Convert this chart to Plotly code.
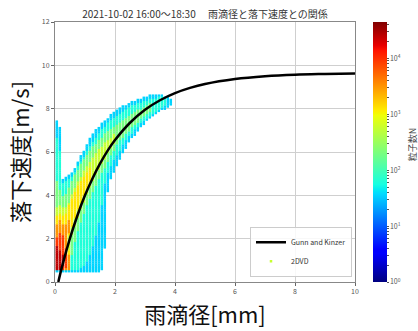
import numpy as np
import plotly.graph_objects as go

# ---------------- data ----------------
# Gunn and Kinzer curve (diameter mm, fall speed m/s)
gk_d = [0.11, 0.25, 0.5, 0.75, 1.0, 1.25, 1.5, 1.75, 2.0, 2.5, 3.0, 3.5, 4.0, 4.5, 5.0, 6.0, 7.0, 8.0, 9.0, 10.0]
gk_v = [0.0, 0.79, 2.02, 3.08, 4.0, 4.78, 5.46, 6.05, 6.55, 7.35, 7.95, 8.39, 8.72, 8.96, 9.14, 9.37, 9.50, 9.57, 9.60, 9.62]

# 2DVD diameter columns (mm)
d_col = [0.06, 0.16, 0.26, 0.36, 0.46, 0.56, 0.66, 0.76, 0.86, 0.96, 1.06, 1.16, 1.26, 1.36, 1.46, 1.56, 1.66,
         1.76, 1.86, 1.96, 2.06, 2.16, 2.26, 2.36, 2.46, 2.56, 2.66, 2.76, 2.86, 2.96, 3.06, 3.16, 3.26, 3.36,
         3.46, 3.56, 3.66, 3.76, 3.86]

# level 1 (~10^1.5 drops): outer envelope of occupied velocity bins
lo1 = [0.5, 0.5, 0.5, 0.5, 0.5, 0.5, 0.5, 0.5, 0.5, 0.5, 0.5, 0.5, 0.5, 0.5, 0.5, 0.6, 1.6, 4.2, 4.8, 5.1,
       5.4, 5.7, 6.0, 6.2, 6.45, 6.65, 6.8, 7.0, 7.15, 7.3, 7.45, 7.55, 7.65, 7.75, 7.85, 7.95, 8.0, 8.1, 8.2]
hi1 = [7.4, 7.1, 4.7, 4.8, 4.9, 5.0, 5.2, 5.5, 5.8, 6.0, 6.3, 6.6, 6.8, 7.0, 7.15, 7.3, 7.45, 7.55, 7.7, 7.8,
       7.9, 8.0, 8.1, 8.15, 8.2, 8.3, 8.35, 8.4, 8.45, 8.5, 8.55, 8.6, 8.6, 8.6, 8.6, 8.6, 8.55, 8.5, 8.45]

# level 2 (~10^1.8): cyan body
lo2 = [0.6, 0.6, 0.6, 0.6, 0.6, 0.6, 0.6, 0.6, 0.7, 0.8, 1.0, 1.3, 1.7, 2.2, 2.8, 3.6, 4.6, 5.1, 5.4, 5.7,
       5.9, 6.1, 6.35, 6.55, 6.75, 6.9, 7.05, 7.2, 7.35, 7.5, 7.6, 7.7, 7.8, 7.9, 7.95, 8.05, 8.15, None, None]
hi2 = [6.6, 6.0, 4.5, 4.6, 4.7, 4.8, 5.0, 5.3, 5.5, 5.75, 6.0, 6.2, 6.45, 6.65, 6.85, 7.0, 7.15, 7.3, 7.45, 7.55,
       7.65, 7.75, 7.85, 7.95, 8.0, 8.1, 8.15, 8.2, 8.25, 8.3, 8.35, 8.4, 8.45, 8.45, 8.5, 8.5, 8.45, None, None]

# level 3 (~10^2.3): green ridge
lo3 = [0.55, 0.55, 0.55, 0.55, 0.6, 1.3, 1.9, 2.4, 2.8, 3.2, 3.55, 3.9, 4.2, 4.5, 4.8, 5.05, 5.3, 5.6, 5.85, 6.05,
       6.35, 6.55, 6.7, 6.85, 7.0, 7.15, 7.3, 7.4, 7.55, 7.65, 7.8, 7.9, None, None, None, None, None, None, None]
hi3 = [4.6, 4.2, 3.9, 4.0, 4.3, 4.6, 4.9, 5.15, 5.4, 5.6, 5.8, 6.0, 6.2, 6.35, 6.5, 6.65, 6.8, 6.9, 7.0, 7.1,
       7.2, 7.3, 7.4, 7.5, 7.6, 7.7, 7.8, 7.9, 7.95, 8.05, 8.1, 8.2, None, None, None, None, None, None, None]

# level 4 (~10^2.75): yellow-green core
d4 = [0.06, 0.16, 0.26, 0.36, 0.46, 0.56, 0.66, 0.76, 0.86, 0.96, 1.06, 1.16, 1.26, 1.36, 1.46, 1.56,
      1.66, 1.76, 1.86, 1.96]
lo4 = [0.55, 0.55, 0.55, 0.6, 0.6, 2.2, 2.6, 3.0, 3.35, 3.7, 4.05, 4.35, 4.65, 4.95, 5.2, 5.45,
       5.7, 5.95, 6.15, 6.35]
hi4 = [3.4, 3.5, 3.4, 3.4, 3.6, 4.0, 4.3, 4.6, 4.85, 5.1, 5.35, 5.55, 5.75, 5.95, 6.1, 6.25,
       6.4, 6.55, 6.65, 6.8]

# level 5 (~10^3.1): yellow
d5 = [0.06, 0.16, 0.26, 0.36, 0.46, 0.46, 0.56, 0.66, 0.76, 0.86, 0.96, 1.06, 1.16]
lo5 = [0.55, 0.55, 0.55, 0.6, 0.6, 2.2, 2.6, 3.0, 3.4, 3.7, 4.0, 4.3, 4.6]
hi5 = [3.0, 3.1, 3.0, 3.1, 1.4, 3.5, 3.8, 4.1, 4.4, 4.6, 4.8, 5.0, 5.2]

# level 6 (~10^3.5): orange
d6 = [0.06, 0.16, 0.26, 0.36, 0.46, 0.46]
lo6 = [0.55, 0.55, 0.55, 0.55, 0.6, 2.3]
hi6 = [2.6, 2.8, 2.6, 2.6, 1.2, 2.8]

# level 7 (~10^3.95): red
d7 = [0.06, 0.16, 0.26, 0.36]
lo7 = [0.55, 0.55, 0.6, 0.7]
hi7 = [2.0, 2.2, 2.1, 1.5]

# level 8 (~10^4.4): dark red
d8 = [0.06, 0.16, 0.26]
lo8 = [0.6, 0.6, 0.8]
hi8 = [1.6, 1.4, 1.2]

level_logn = [1.55, 1.8, 2.3, 2.75, 3.1, 3.5, 3.95, 4.4]   # log10 of drop count
v_bins = np.round(np.arange(0.5, 8.75, 0.1), 2)           # velocity bin centres (m/s)

# ---------------- build the 2D count table ----------------
levels = [
    (d_col, lo1, hi1), (d_col, lo2, hi2), (d_col, lo3, hi3),
    (d4, lo4, hi4), (d5, lo5, hi5), (d6, lo6, hi6), (d7, lo7, hi7), (d8, lo8, hi8),
]
cells = {}
for k, (dd, lo, hi) in enumerate(levels):
    for d, a, b in zip(dd, lo, hi):
        if a is None:
            continue
        for v in v_bins:
            if a - 1e-6 <= v <= b + 1e-6:
                cells[(d, float(v))] = level_logn[k]

# put a core (yellow-green) cell first so the legend swatch takes that colour
items = sorted(cells.items(), key=lambda t: (t[1] != level_logn[3], t[1]))
px = [c[0][0] for c in items]
py = [c[0][1] for c in items]
pz = [c[1] for c in items]

jet = [
    [0.0, "rgb(0,0,128)"], [0.11, "rgb(0,0,255)"], [0.125, "rgb(0,0,255)"],
    [0.34, "rgb(0,219,255)"], [0.35, "rgb(0,230,247)"], [0.375, "rgb(21,255,226)"],
    [0.64, "rgb(239,255,8)"], [0.65, "rgb(247,246,0)"], [0.66, "rgb(255,236,0)"],
    [0.89, "rgb(255,19,0)"], [0.91, "rgb(232,0,0)"], [1.0, "rgb(128,0,0)"],
]

tickvals, ticktext = [], []
for e in range(5):
    tickvals.append(e)
    ticktext.append("10<sup>%d</sup>" % e)
    for m in range(2, 10):
        t = e + np.log10(m)
        if t <= 4.65:
            tickvals.append(t)
            ticktext.append("")

FONT = "Noto Sans CJK JP"

fig = go.Figure()
fig.add_trace(go.Scatter(
    x=px, y=py, mode="markers", name="2DVD", legendrank=2,
    marker=dict(symbol="square", size=2.5, color=pz, colorscale=jet, cmin=0, cmax=4.65,
                line=dict(width=0),
                colorbar=dict(
                    x=1.06, xanchor="left", xpad=0, y=0.5, yanchor="middle", ypad=0,
                    len=1.0, lenmode="fraction",
                    thickness=14, outlinewidth=0,
                    tickmode="array", tickvals=tickvals, ticktext=ticktext,
                    ticks="outside", ticklen=2, tickcolor="#555",
                    tickfont=dict(size=7, color="#555", family=FONT),
                ),
                showscale=True),
    hoverinfo="skip",
))
fig.add_trace(go.Scatter(
    x=gk_d, y=gk_v, mode="lines", name="Gunn and Kinzer", legendrank=1,
    line=dict(color="black", width=2.5, shape="spline"),
))

axis_common = dict(
    showgrid=True, gridcolor="#cfcfcf", gridwidth=1,
    showline=True, linecolor="#888", linewidth=1, mirror=True,
    ticks="outside", ticklen=3, tickcolor="#666",
    tickfont=dict(size=7, color="#555", family=FONT),
    zeroline=False,
)
fig.update_xaxes(range=[0, 10], dtick=2, **axis_common,
                 title=dict(text="雨滴径[mm]", font=dict(size=22, color="#111", family=FONT), standoff=12))
fig.update_yaxes(range=[0, 12], dtick=2, **axis_common,
                 title=dict(text="落下速度[m/s]", font=dict(size=22, color="#111", family=FONT), standoff=6))

fig.add_annotation(text="粒子数N", textangle=-90, x=1.19, y=0.53, xref="paper", yref="paper",
                   xanchor="center", yanchor="middle", showarrow=False,
                   font=dict(size=9, color="#444", family=FONT))

fig.update_layout(
    width=418, height=331,
    margin=dict(l=55, r=63, t=22, b=49, autoexpand=False),
    paper_bgcolor="white", plot_bgcolor="white",
    font=dict(family=FONT),
    title=dict(text="2021-10-02 16:00～18:30　 雨滴径と落下速度との関係", x=0.5, xref="paper",
               y=1 - 14 / 331, yref="container", xanchor="center", yanchor="middle",
               font=dict(size=10, color="#333", family=FONT)),
    legend=dict(x=0.99, y=0.02, xanchor="right", yanchor="bottom",
                bgcolor="rgba(255,255,255,0.85)", bordercolor="#ccc", borderwidth=1,
                font=dict(size=7, color="#333", family=FONT), itemwidth=30,
                tracegroupgap=0),
    showlegend=True,
)

fig.write_html("out.html", config={"displayModeBar": False},
               post_script="document.body.style.margin='0';document.body.style.overflow='hidden';")
